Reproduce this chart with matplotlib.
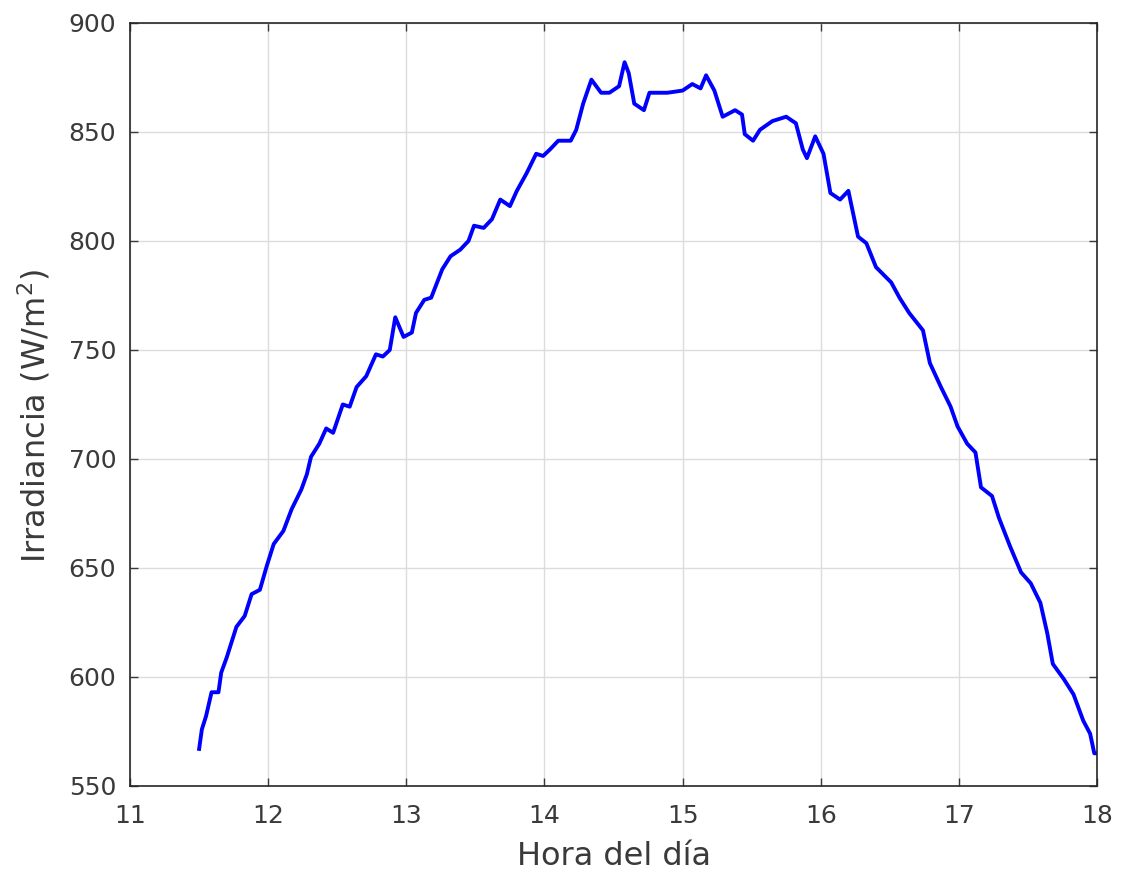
import matplotlib
matplotlib.use("Agg")
import matplotlib.pyplot as plt

hours = [11.50, 11.52, 11.55, 11.59, 11.64, 11.66, 11.70, 11.77, 11.83, 11.88,
         11.94, 11.99, 12.04, 12.11, 12.17, 12.24, 12.28, 12.31, 12.37, 12.42,
         12.47, 12.54, 12.59, 12.64, 12.71, 12.78, 12.83, 12.88, 12.92, 12.98,
         13.04, 13.07, 13.13, 13.18, 13.26, 13.32, 13.39, 13.45, 13.49, 13.56,
         13.62, 13.68, 13.75, 13.80, 13.87, 13.94, 13.99, 14.04, 14.10, 14.19,
         14.23, 14.28, 14.34, 14.41, 14.47, 14.54, 14.58, 14.61, 14.65, 14.72,
         14.76, 14.89, 15.00, 15.07, 15.13, 15.17, 15.23, 15.29, 15.38, 15.43,
         15.45, 15.51, 15.56, 15.65, 15.75, 15.82, 15.87, 15.90, 15.96, 16.02,
         16.07, 16.14, 16.20, 16.24, 16.27, 16.33, 16.40, 16.51, 16.57, 16.64,
         16.74, 16.79, 16.87, 16.94, 16.99, 17.06, 17.12, 17.16, 17.24, 17.29,
         17.37, 17.45, 17.52, 17.59, 17.64, 17.68, 17.76, 17.83, 17.90, 17.95,
         17.98, 18.00]
irradiance = [567, 576, 582, 593, 593, 602, 609, 623, 628, 638,
              640, 651, 661, 667, 677, 686, 693, 701, 707, 714,
              712, 725, 724, 733, 738, 748, 747, 750, 765, 756,
              758, 767, 773, 774, 787, 793, 796, 800, 807, 806,
              810, 819, 816, 823, 831, 840, 839, 842, 846, 846,
              851, 863, 874, 868, 868, 871, 882, 877, 863, 860,
              868, 868, 869, 872, 870, 876, 869, 857, 860, 858,
              849, 846, 851, 855, 857, 854, 842, 838, 848, 840,
              822, 819, 823, 811, 802, 799, 788, 781, 774, 767,
              759, 744, 733, 724, 715, 707, 703, 687, 683, 673,
              660, 648, 643, 634, 620, 606, 599, 592, 580, 574,
              565, 565]

x_ticks = [11, 12, 13, 14, 15, 16, 17, 18]
y_ticks = [550, 600, 650, 700, 750, 800, 850, 900]

plt.rcParams["font.family"] = ["DejaVu Sans"]
plt.rcParams["mathtext.fontset"] = "dejavusans"
txt = "#3a3a3a"

fig = plt.figure(figsize=(11.24, 8.74), dpi=100)
ax = fig.add_axes([0.1157, 0.1007, 0.8603, 0.873])
ax.plot(hours, irradiance, color="#0000ff", lw=2.8)
ax.set_xlim(11, 18)
ax.set_ylim(550, 900)
ax.set_xticks(x_ticks)
ax.set_yticks(y_ticks)
ax.grid(True, color="#dcdcdc", lw=1.0)
ax.set_axisbelow(True)
ax.tick_params(direction="in", top=True, right=True, length=6, width=1, colors=txt)
ax.tick_params(axis="x", labelsize=18, pad=13)
ax.tick_params(axis="y", labelsize=18, pad=10)
for s in ax.spines.values():
    s.set_color("#262626")
    s.set_linewidth(1.2)
ax.set_xlabel("Hora del día", fontsize=23, color=txt)
ax.set_ylabel("Irradiancia (W/m$^2$)", fontsize=23, color=txt)
ax.xaxis.set_label_coords(0.5, -0.072)
ax.yaxis.set_label_coords(-0.080, 0.485)
fig.savefig("out.png", dpi=100)
